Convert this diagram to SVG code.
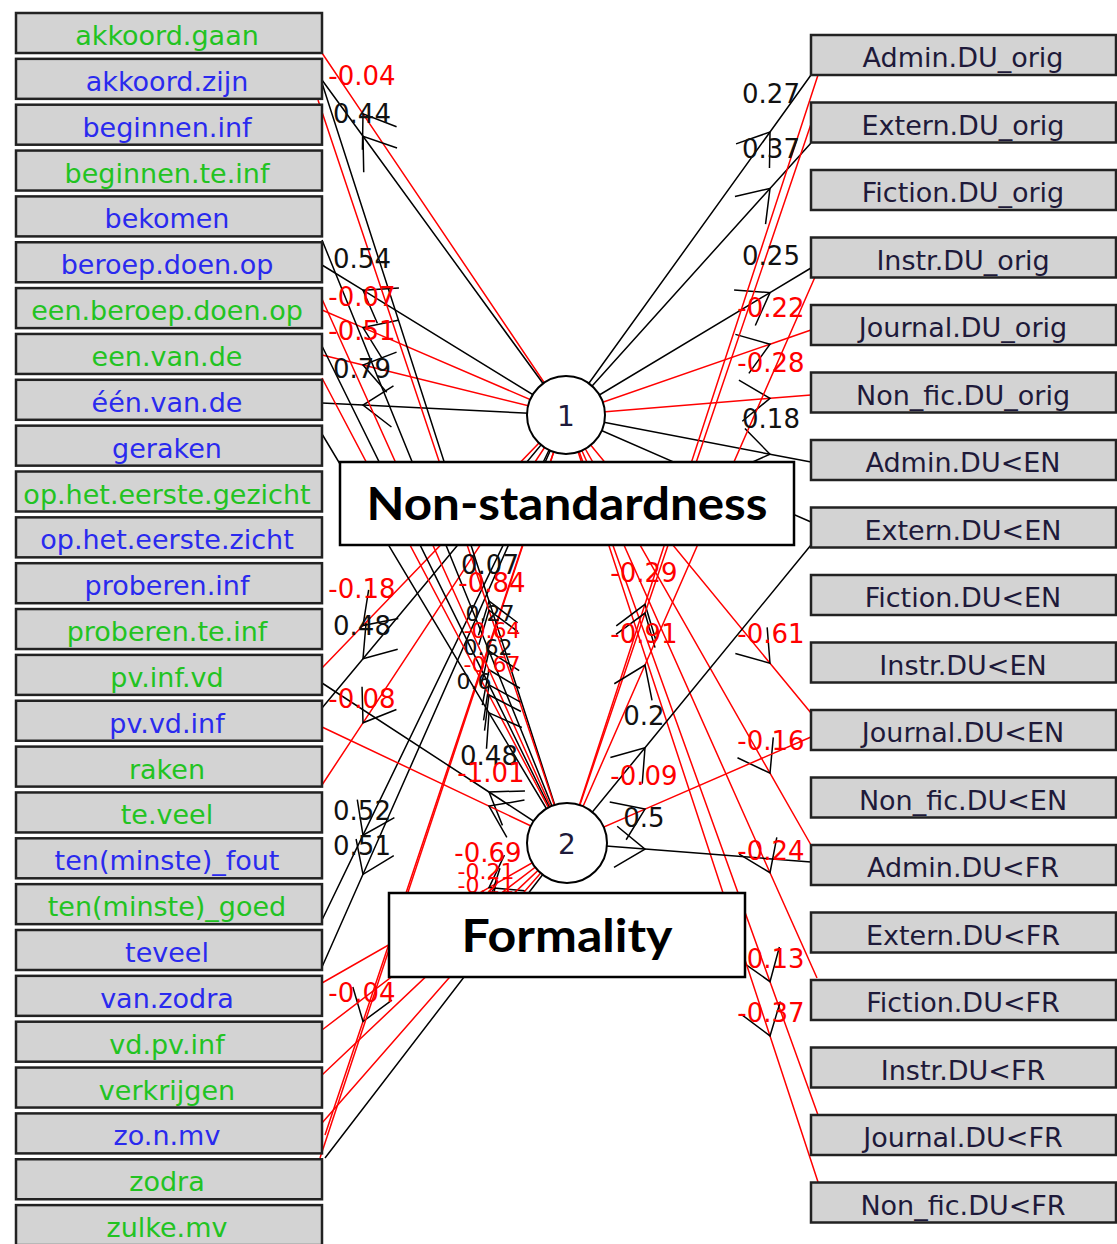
<svg xmlns="http://www.w3.org/2000/svg" width="1117" height="1244" viewBox="0 0 1117 1244">
<style>
.box{fill:#d3d3d3;stroke:#222;stroke-width:2.5}
.bt{font-family:"DejaVu Sans",sans-serif;font-size:27px;text-anchor:middle}
.g{fill:#22c322}.b{fill:#2a2aee}.k{fill:#1e1a3a}
.e{fill:none;stroke-width:1.5}
.pos{stroke:#000}.neg{stroke:#f00}
.ar{marker-mid:url(#ah)}
.lbl{font-family:"DejaVu Sans",sans-serif;font-size:26px;text-anchor:middle}
.sm{font-size:22px}
.lp{fill:#111}.ln{fill:#f00}
.fn circle{fill:#fff;stroke:#000;stroke-width:2}
.fn text{font-family:"DejaVu Sans",sans-serif;font-size:28px;text-anchor:middle;fill:#1e1a3a}
.fac rect{fill:#fff;stroke:#000;stroke-width:2.5}
.fac text{font-family:Lato,"Open Sans",sans-serif;font-weight:700;font-size:45px;text-anchor:middle;fill:#000}
</style>
<defs>
<marker id="ah" markerUnits="userSpaceOnUse" viewBox="-40 -40 80 80" markerWidth="80" markerHeight="80" refX="0" refY="0" orient="auto" overflow="visible">
<path d="M-29.5,-20.6 L0,0 L-29.5,20.6" fill="none" stroke="#000" stroke-width="1.5"/>
</marker>
</defs>
<rect width="1117" height="1244" fill="#fff"/>
<g id="connectors">
<path class="e neg ar" d="M566,415 L363,113.8 L322,53"/>
<path class="e pos ar" d="M566,415 L363,136.3 L322,80"/>
<path class="e pos ar" d="M566,415 L363,290.2 L322,265"/>
<path class="e neg ar" d="M566,415 L363,327.6 L322,310"/>
<path class="e neg ar" d="M566,415 L363,365.1 L322,355"/>
<path class="e pos ar" d="M566,415 L363,405 L322,403"/>
<path class="e neg ar" d="M566,415 L363,625.5 L322,668"/>
<path class="e pos ar" d="M566,415 L363,658.8 L322,708"/>
<path class="e neg ar" d="M566,415 L363,722.8 L322,785"/>
<path class="e pos ar" d="M566,415 L363,835.2 L322,920"/>
<path class="e pos ar" d="M566,415 L363,874.3 L322,967"/>
<path class="e neg ar" d="M566,415 L363,1021.5 L325,1135"/>
<path class="e neg" d="M566,415 L320,1158"/>
<path class="e pos ar" d="M566,415 L770,132 L811,75"/>
<path class="e pos ar" d="M566,415 L770,188.4 L811,143"/>
<path class="e pos ar" d="M566,415 L770,292.6 L811,268"/>
<path class="e neg ar" d="M566,415 L770,344.2 L811,330"/>
<path class="e neg ar" d="M566,415 L770,398.3 L811,395"/>
<path class="e pos ar" d="M566,415 L770,454.2 L811,462"/>
<path class="e pos ar" d="M566,415 L770,504.1 L811,522"/>
<path class="e neg ar" d="M566,415 L770,663.2 L811,713"/>
<path class="e neg ar" d="M566,415 L770,773.2 L811,845"/>
<path class="e neg ar" d="M566,415 L770,872.7 L817,978"/>
<path class="e neg ar" d="M566,415 L770,981.7 L818,1115"/>
<path class="e neg ar" d="M566,415 L770,1035.9 L818,1182"/>
<path class="e neg ar" d="M567,843 L645,604.3 L818,75"/>
<path class="e neg ar" d="M567,843 L645,613.1 L811,124"/>
<path class="e neg ar" d="M567,843 L645,665 L815,277"/>
<path class="e pos ar" d="M567,843 L645,747.7 L811,545"/>
<path class="e neg ar" d="M567,843 L645,809.1 L811,737"/>
<path class="e pos ar" d="M567,843 L645,849.1 L811,862"/>
<path class="e pos ar" d="M567,843 L489,601 L322,83"/>
<path class="e neg ar" d="M567,843 L489,610.2 L318,100"/>
<path class="e pos ar" d="M567,843 L489,651 L322,240"/>
<path class="e neg ar" d="M567,843 L489,669.8 L322,299"/>
<path class="e pos ar" d="M567,843 L489,684.8 L322,346"/>
<path class="e neg ar" d="M567,843 L489,695 L322,378"/>
<path class="e pos ar" d="M567,843 L489,712.8 L322,434"/>
<path class="e pos ar" d="M567,843 L489,792 L322,683"/>
<path class="e neg ar" d="M567,843 L489,806.1 L322,727"/>
<path class="e neg ar" d="M567,843 L489,887.6 L322,983"/>
<path class="e neg ar" d="M567,843 L489,902.5 L322,1030"/>
<path class="e neg ar" d="M567,843 L489,916.9 L322,1075"/>
<path class="e neg ar" d="M567,843 L489,932.2 L322,1123"/>
<path class="e pos ar" d="M567,843 L489,944.5 L325,1158"/>
<g id="edge-labels" class="lbl">
<text class="ln" x="362" y="85">-0.04</text>
<text class="lp" x="362" y="123">0.44</text>
<text class="lp" x="362" y="268">0.54</text>
<text class="ln" x="362" y="306">-0.07</text>
<text class="ln" x="362" y="340">-0.51</text>
<text class="lp" x="362" y="378">0.79</text>
<text class="ln" x="362" y="598">-0.18</text>
<text class="lp" x="362" y="635">0.48</text>
<text class="ln" x="362" y="708">-0.08</text>
<text class="lp" x="362" y="820">0.52</text>
<text class="lp" x="362" y="855">0.51</text>
<text class="ln" x="362" y="1002">-0.04</text>
<text class="lp" x="771" y="103">0.27</text>
<text class="lp" x="771" y="158">0.37</text>
<text class="lp" x="771" y="265">0.25</text>
<text class="ln" x="771" y="317">-0.22</text>
<text class="ln" x="771" y="372">-0.28</text>
<text class="lp" x="771" y="428">0.18</text>
<text class="ln" x="771" y="643">-0.61</text>
<text class="ln" x="771" y="750">-0.16</text>
<text class="ln" x="771" y="860">-0.24</text>
<text class="ln" x="771" y="968">-0.13</text>
<text class="ln" x="771" y="1022">-0.37</text>
<text class="ln" x="644" y="582">-0.29</text>
<text class="ln" x="644" y="643">-0.91</text>
<text class="lp" x="644" y="725">0.2</text>
<text class="ln" x="644" y="785">-0.09</text>
<text class="lp" x="644" y="827">0.5</text>
<text class="lp" x="490" y="574">0.07</text>
<text class="ln" x="492" y="592">-0.84</text>
<text class="lp sm" x="490" y="621">0.27</text>
<text class="ln sm" x="492" y="638">-0.64</text>
<text class="lp sm" x="488" y="655">0.62</text>
<text class="ln sm" x="492" y="672">-0.67</text>
<text class="lp sm" x="474" y="689">0.6</text>
<text class="lp" x="489" y="765">0.48</text>
<text class="ln" x="491" y="782">-1.01</text>
<text class="ln" x="488" y="862">-0.69</text>
<text class="ln sm" x="486" y="879">-0.21</text>
<text class="ln sm" x="486" y="893">-0.21</text>
</g>
</g>
<g id="left-nodes">
<g id="n-akkoord-gaan"><rect class="box" x="16" y="13" width="306" height="40"/><text class="bt g" x="167" y="45">akkoord.gaan</text></g>
<g id="n-akkoord-zijn"><rect class="box" x="16" y="58.85" width="306" height="40"/><text class="bt b" x="167" y="90.85">akkoord.zijn</text></g>
<g id="n-beginnen-inf"><rect class="box" x="16" y="104.7" width="306" height="40"/><text class="bt b" x="167" y="136.7">beginnen.inf</text></g>
<g id="n-beginnen-te-inf"><rect class="box" x="16" y="150.55" width="306" height="40"/><text class="bt g" x="167" y="182.55">beginnen.te.inf</text></g>
<g id="n-bekomen"><rect class="box" x="16" y="196.4" width="306" height="40"/><text class="bt b" x="167" y="228.4">bekomen</text></g>
<g id="n-beroep-doen-op"><rect class="box" x="16" y="242.25" width="306" height="40"/><text class="bt b" x="167" y="274.25">beroep.doen.op</text></g>
<g id="n-een-beroep-doen-op"><rect class="box" x="16" y="288.1" width="306" height="40"/><text class="bt g" x="167" y="320.1">een.beroep.doen.op</text></g>
<g id="n-een-van-de"><rect class="box" x="16" y="333.95" width="306" height="40"/><text class="bt g" x="167" y="365.95">een.van.de</text></g>
<g id="n-één-van-de"><rect class="box" x="16" y="379.8" width="306" height="40"/><text class="bt b" x="167" y="411.8">één.van.de</text></g>
<g id="n-geraken"><rect class="box" x="16" y="425.65" width="306" height="40"/><text class="bt b" x="167" y="457.65">geraken</text></g>
<g id="n-op-het-eerste-gezicht"><rect class="box" x="16" y="471.5" width="306" height="40"/><text class="bt g" x="167" y="503.5">op.het.eerste.gezicht</text></g>
<g id="n-op-het-eerste-zicht"><rect class="box" x="16" y="517.35" width="306" height="40"/><text class="bt b" x="167" y="549.35">op.het.eerste.zicht</text></g>
<g id="n-proberen-inf"><rect class="box" x="16" y="563.2" width="306" height="40"/><text class="bt b" x="167" y="595.2">proberen.inf</text></g>
<g id="n-proberen-te-inf"><rect class="box" x="16" y="609.05" width="306" height="40"/><text class="bt g" x="167" y="641.05">proberen.te.inf</text></g>
<g id="n-pv-inf-vd"><rect class="box" x="16" y="654.9" width="306" height="40"/><text class="bt g" x="167" y="686.9">pv.inf.vd</text></g>
<g id="n-pv-vd-inf"><rect class="box" x="16" y="700.75" width="306" height="40"/><text class="bt b" x="167" y="732.75">pv.vd.inf</text></g>
<g id="n-raken"><rect class="box" x="16" y="746.6" width="306" height="40"/><text class="bt g" x="167" y="778.6">raken</text></g>
<g id="n-te-veel"><rect class="box" x="16" y="792.45" width="306" height="40"/><text class="bt g" x="167" y="824.45">te.veel</text></g>
<g id="n-tenminste-fout"><rect class="box" x="16" y="838.3" width="306" height="40"/><text class="bt b" x="167" y="870.3">ten(minste)_fout</text></g>
<g id="n-tenminste-goed"><rect class="box" x="16" y="884.15" width="306" height="40"/><text class="bt g" x="167" y="916.15">ten(minste)_goed</text></g>
<g id="n-teveel"><rect class="box" x="16" y="930" width="306" height="40"/><text class="bt b" x="167" y="962">teveel</text></g>
<g id="n-van-zodra"><rect class="box" x="16" y="975.85" width="306" height="40"/><text class="bt b" x="167" y="1007.85">van.zodra</text></g>
<g id="n-vd-pv-inf"><rect class="box" x="16" y="1021.7" width="306" height="40"/><text class="bt g" x="167" y="1053.7">vd.pv.inf</text></g>
<g id="n-verkrijgen"><rect class="box" x="16" y="1067.55" width="306" height="40"/><text class="bt g" x="167" y="1099.55">verkrijgen</text></g>
<g id="n-zo-n-mv"><rect class="box" x="16" y="1113.4" width="306" height="40"/><text class="bt b" x="167" y="1145.4">zo.n.mv</text></g>
<g id="n-zodra"><rect class="box" x="16" y="1159.25" width="306" height="40"/><text class="bt g" x="167" y="1191.25">zodra</text></g>
<g id="n-zulke-mv"><rect class="box" x="16" y="1205.1" width="306" height="40"/><text class="bt g" x="167" y="1237.1">zulke.mv</text></g>
</g>
<g id="right-nodes">
<g id="n-admin-orig"><rect class="box" x="811" y="35" width="305" height="40"/><text class="bt k" x="963" y="67">Admin.DU_orig</text></g>
<g id="n-extern-orig"><rect class="box" x="811" y="102.5" width="305" height="40"/><text class="bt k" x="963" y="134.5">Extern.DU_orig</text></g>
<g id="n-fiction-orig"><rect class="box" x="811" y="170" width="305" height="40"/><text class="bt k" x="963" y="202">Fiction.DU_orig</text></g>
<g id="n-instr-orig"><rect class="box" x="811" y="237.5" width="305" height="40"/><text class="bt k" x="963" y="269.5">Instr.DU_orig</text></g>
<g id="n-journal-orig"><rect class="box" x="811" y="305" width="305" height="40"/><text class="bt k" x="963" y="337">Journal.DU_orig</text></g>
<g id="n-nonfic-orig"><rect class="box" x="811" y="372.5" width="305" height="40"/><text class="bt k" x="963" y="404.5">Non_fic.DU_orig</text></g>
<g id="n-admin-en"><rect class="box" x="811" y="440" width="305" height="40"/><text class="bt k" x="963" y="472">Admin.DU&lt;EN</text></g>
<g id="n-extern-en"><rect class="box" x="811" y="507.5" width="305" height="40"/><text class="bt k" x="963" y="539.5">Extern.DU&lt;EN</text></g>
<g id="n-fiction-en"><rect class="box" x="811" y="575" width="305" height="40"/><text class="bt k" x="963" y="607">Fiction.DU&lt;EN</text></g>
<g id="n-instr-en"><rect class="box" x="811" y="642.5" width="305" height="40"/><text class="bt k" x="963" y="674.5">Instr.DU&lt;EN</text></g>
<g id="n-journal-en"><rect class="box" x="811" y="710" width="305" height="40"/><text class="bt k" x="963" y="742">Journal.DU&lt;EN</text></g>
<g id="n-nonfic-en"><rect class="box" x="811" y="777.5" width="305" height="40"/><text class="bt k" x="963" y="809.5">Non_fic.DU&lt;EN</text></g>
<g id="n-admin-fr"><rect class="box" x="811" y="845" width="305" height="40"/><text class="bt k" x="963" y="877">Admin.DU&lt;FR</text></g>
<g id="n-extern-fr"><rect class="box" x="811" y="912.5" width="305" height="40"/><text class="bt k" x="963" y="944.5">Extern.DU&lt;FR</text></g>
<g id="n-fiction-fr"><rect class="box" x="811" y="980" width="305" height="40"/><text class="bt k" x="963" y="1012">Fiction.DU&lt;FR</text></g>
<g id="n-instr-fr"><rect class="box" x="811" y="1047.5" width="305" height="40"/><text class="bt k" x="963" y="1079.5">Instr.DU&lt;FR</text></g>
<g id="n-journal-fr"><rect class="box" x="811" y="1115" width="305" height="40"/><text class="bt k" x="963" y="1147">Journal.DU&lt;FR</text></g>
<g id="n-nonfic-fr"><rect class="box" x="811" y="1182.5" width="305" height="40"/><text class="bt k" x="963" y="1214.5">Non_fic.DU&lt;FR</text></g>
</g>
<g id="factor-1" class="fn"><circle cx="566" cy="415" r="39"/><text x="566" y="426">1</text></g>
<g id="factor-2" class="fn"><circle cx="567" cy="843" r="40"/><text x="567" y="854">2</text></g>
<g id="label-nonstandardness" class="fac"><rect x="340" y="462" width="454" height="83"/><text x="567" y="520" textLength="401" lengthAdjust="spacingAndGlyphs">Non-standardness</text></g>
<g id="label-formality" class="fac"><rect x="389" y="893" width="356" height="84"/><text x="567" y="952" textLength="211" lengthAdjust="spacingAndGlyphs">Formality</text></g>
</svg>
